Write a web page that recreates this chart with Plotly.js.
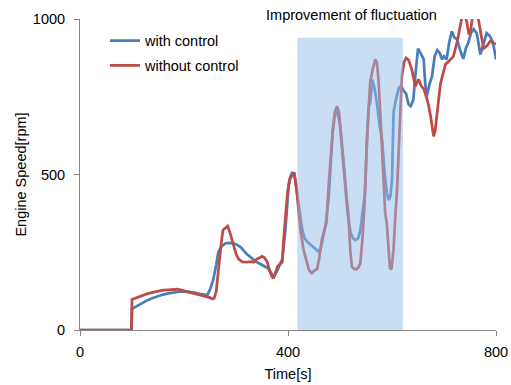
<!DOCTYPE html>
<html>
<head>
<meta charset="utf-8">
<script src="https://cdn.plot.ly/plotly-3.0.1.min.js"></script>
<style>
  html, body { margin: 0; padding: 0; background: #fff; }
  #chart { width: 511px; height: 385px; }
</style>
</head>
<body>
<div id="chart"></div>
<script>
// Engine speed over time, with and without the control active
const timeWith = [0, 99, 100, 110, 120, 130, 140, 150, 160, 170, 180, 190, 200, 210, 220, 230, 240, 245, 250, 256, 262, 266, 272, 280, 290, 296, 303, 310, 320, 330, 340, 347, 355, 362, 369, 373, 379, 385, 389, 395, 401, 405, 408, 412, 417, 422, 427, 432, 437, 443, 449, 455, 459, 463, 467, 472, 478, 482, 486, 490, 494, 498, 501, 505, 510, 515, 520, 525, 530, 535, 539, 543, 548, 552, 555, 558, 562, 566, 571, 576, 581, 586, 590, 594, 597, 600, 603, 608, 613, 618, 622, 627, 632, 636, 641, 645, 650, 655, 661, 664, 667, 672, 677, 682, 687, 692, 696, 700, 705, 710, 715, 720, 725, 731, 737, 742, 747, 752, 757, 763, 770, 776, 782, 788, 793, 797, 800];
const rpmWith = [0, 0, 68, 78, 88, 96, 103, 109, 114, 118, 121, 123, 124, 123, 120, 116, 112, 112, 130, 160, 210, 250, 268, 279, 280, 279, 273, 265, 245, 232, 218, 212, 205, 198, 180, 172, 190, 210, 228, 322, 461, 495, 505, 503, 440, 380, 327, 295, 284, 275, 267, 258, 252, 262, 290, 335, 418, 540, 640, 690, 703, 680, 644, 560, 461, 370, 315, 295, 289, 295, 320, 370, 440, 620, 720, 730, 805, 780, 730, 660, 612, 500, 440, 418, 430, 483, 700, 745, 778, 785, 770, 760, 725, 720, 740, 820, 905, 890, 870, 790, 752, 790, 816, 880, 900, 890, 870, 880, 870, 925, 960, 940, 935, 900, 872, 905, 925, 955, 967, 955, 886, 920, 955, 945, 930, 900, 870];

const timeWithout = [0, 99, 100, 110, 120, 130, 140, 150, 160, 170, 180, 187, 195, 205, 215, 225, 235, 245, 250, 255, 258, 262, 266, 271, 275, 280, 284, 289, 294, 300, 305, 312, 320, 328, 334, 340, 345, 350, 355, 360, 364, 368, 372, 376, 380, 385, 389, 392, 396, 399, 403, 408, 412, 416, 420, 424, 430, 435, 440, 443, 446, 450, 456, 460, 465, 470, 474, 478, 482, 486, 490, 494, 498, 503, 508, 513, 516, 520, 523, 527, 531, 535, 539, 543, 547, 552, 555, 558, 563, 568, 571, 574, 578, 581, 584, 587, 590, 593, 596, 599, 603, 606, 610, 613, 616, 619, 623, 627, 632, 638, 645, 651, 656, 661, 666, 670, 674, 677, 680, 683, 687, 693, 699, 703, 708, 712, 718, 725, 731, 735, 739, 744, 748, 751, 755, 760, 765, 770, 776, 782, 789, 795, 800];
const rpmWithout = [0, 0, 98, 104, 112, 117, 121, 125, 128, 129, 130, 131, 128, 124, 120, 116, 112, 107, 104, 100, 102, 125, 200, 270, 322, 330, 334, 310, 280, 245, 228, 219, 218, 220, 218, 228, 232, 237, 232, 219, 195, 175, 166, 185, 205, 212, 218, 300, 390, 440, 485, 495, 506, 460, 380, 322, 257, 222, 195, 187, 183, 190, 196, 230, 290, 320, 345, 460, 560, 640, 700, 720, 700, 620, 520, 420, 375, 250, 203, 197, 195, 200, 214, 289, 400, 612, 730, 795, 840, 870, 860, 805, 680, 580, 450, 375, 343, 268, 200, 195, 260, 354, 460, 580, 700, 816, 860, 875, 868, 838, 784, 806, 785, 775, 750, 725, 690, 655, 623, 640, 700, 790, 830, 855, 862, 868, 880, 924, 985, 1010, 1020, 988, 950, 960, 1010, 1030, 1010, 967, 905, 913, 929, 922, 920];

const seriesNames = ['with control', 'without control'];
const xTicks = [0, 400, 800];
const yTicks = [0, 500, 1000];

// Time window highlighted as the fluctuation improvement zone
const improvementSpan = [418, 621];
const improvementTop = 940;

const font = 'Liberation Sans, Arial, sans-serif';

const traces = [
  {
    x: timeWith, y: rpmWith, name: seriesNames[0], legendgroup: 'a',
    type: 'scatter', mode: 'lines',
    line: { color: '#4a7ebb', width: 2.75 }
  },
  {
    x: timeWithout, y: rpmWithout, name: seriesNames[1], legendgroup: 'b',
    type: 'scatter', mode: 'lines',
    line: { color: '#be4b48', width: 2.75 }
  }
];

const layout = {
  width: 511, height: 385,
  margin: { l: 80, r: 15, t: 19, b: 55 },
  paper_bgcolor: '#fff', plot_bgcolor: '#fff',
  font: { family: font, size: 14.5, color: '#000' },
  title: {
    text: 'Improvement of fluctuation',
    font: { family: font, size: 14.5, color: '#000' },
    xref: 'paper', x: 0.6526, xanchor: 'center',
    yref: 'container', y: 0.962, yanchor: 'middle'
  },
  showlegend: true,
  legend: {
    x: 0.060, xanchor: 'left', y: 0.982, yanchor: 'top',
    bgcolor: 'rgba(0,0,0,0)', borderwidth: 0,
    font: { family: font, size: 14.5, color: '#000' },
    tracegroupgap: 3
  },
  xaxis: {
    range: [0, 800], tickvals: xTicks, ticktext: xTicks.map(String),
    showgrid: false, zeroline: false,
    showline: true, linecolor: '#868686', linewidth: 1,
    ticks: 'outside', ticklen: 5, tickcolor: '#868686',
    ticklabelstandoff: 4,
    title: { text: 'Time[s]', font: { family: font, size: 14.5 }, standoff: 9 }
  },
  yaxis: {
    range: [0, 1000], tickvals: yTicks, ticktext: yTicks.map(String),
    showgrid: false, zeroline: false,
    showline: true, linecolor: '#868686', linewidth: 1,
    ticks: 'outside', ticklen: 5, tickcolor: '#868686',
    ticklabelstandoff: 6,
    title: { text: 'Engine Speed[rpm]', font: { family: font, size: 14.5 }, standoff: 2 }
  },
  shapes: [{
    type: 'rect', layer: 'above', xref: 'x', yref: 'y',
    x0: improvementSpan[0], x1: improvementSpan[1], y0: 0, y1: improvementTop,
    fillcolor: 'rgba(150,190,232,0.5)', line: { width: 0 }
  }]
};

Plotly.newPlot('chart', traces, layout, { staticPlot: true, displayModeBar: false });
</script>
</body>
</html>
